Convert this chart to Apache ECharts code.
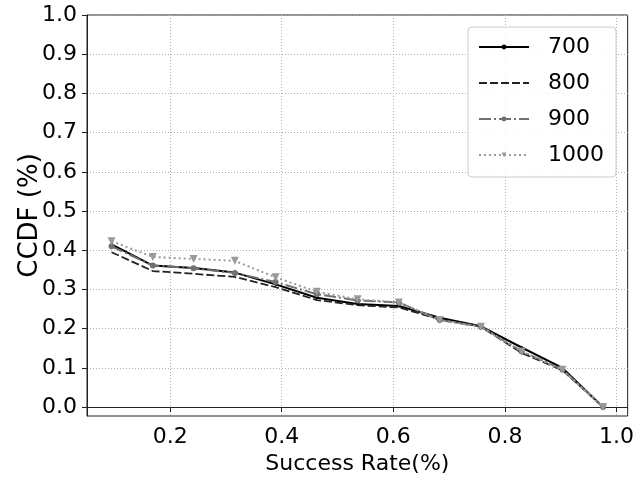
<!DOCTYPE html>
<html>
<head>
<meta charset="utf-8">
<script src="https://cdn.jsdelivr.net/npm/echarts@6/dist/echarts.min.js"></script>
<style>
  html, body { margin: 0; padding: 0; background: #fff; }
  #chart { width: 637px; height: 480px; }
</style>
</head>
<body>
<div id="chart"></div>
<script>
// 数据
var xValues = [0.095, 0.169, 0.242, 0.316, 0.389, 0.463, 0.536, 0.610, 0.683, 0.757, 0.830, 0.903, 0.976];
var s700 = [0.415, 0.361, 0.355, 0.343, 0.313, 0.279, 0.263, 0.258, 0.228, 0.206, 0.152, 0.100, 0.0];
var s800 = [0.395, 0.347, 0.340, 0.332, 0.306, 0.273, 0.260, 0.254, 0.224, 0.205, 0.138, 0.094, 0.0];
var s900 = [0.410, 0.361, 0.354, 0.342, 0.319, 0.288, 0.272, 0.267, 0.222, 0.205, 0.142, 0.096, 0.0];
var s1000 = [0.423, 0.383, 0.378, 0.373, 0.331, 0.294, 0.275, 0.267, 0.222, 0.205, 0.142, 0.095, 0.0];
var seriesNames = ['700', '800', '900', '1000'];
var xTicks = [0.2, 0.4, 0.6, 0.8, 1.0];
var yTicks = [0.0, 0.1, 0.2, 0.3, 0.4, 0.5, 0.6, 0.7, 0.8, 0.9, 1.0];

function pairs(ys) {
    return ys.map(function (y, i) { return [xValues[i], y]; });
}

var font = 'DejaVu Sans';
var myChart = echarts.init(document.getElementById('chart'));

var option = {
    animation: false,
    textStyle: { fontFamily: font },
    grid: {
        left: 87,
        right: 8,
        top: 15,
        bottom: 60,
        show: true,
        borderColor: '#222',
        borderWidth: 1
    },
    legend: {
        data: [
            { name: '700' },
            { name: '800', itemStyle: { opacity: 0 } },
            { name: '900' },
            { name: '1000' }
        ],
        orient: 'vertical',
        right: 21,
        top: 27,
        itemWidth: 50,
        itemHeight: 6,
        itemGap: 12,
        padding: [8, 12, 10, 10],
        borderColor: '#ccc',
        borderWidth: 1,
        borderRadius: 4,
        backgroundColor: 'rgba(255,255,255,0.85)',
        textStyle: { fontSize: 22, lineHeight: 24, color: '#000', padding: [0, 0, 0, 14], fontFamily: font }
    },
    xAxis: {
        type: 'value',
        min: 0.051,
        max: 1.02,
        name: 'Success Rate(%)',
        nameLocation: 'middle',
        nameGap: 37,
        nameMoveOverlap: false,
        nameTextStyle: { fontSize: 22, color: '#000', fontFamily: font },
        axisLine: { show: true, lineStyle: { color: '#222' } },
        axisTick: { show: true, length: 5, customValues: xTicks, lineStyle: { color: '#222' } },
        axisLabel: {
            customValues: xTicks,
            fontSize: 22,
            color: '#000',
            margin: 10,
            formatter: function (v) { return v.toFixed(1); }
        },
        splitLine: { show: true, lineStyle: { color: '#b0b0b0', type: [1, 2] } }
    },
    yAxis: {
        type: 'value',
        min: -0.0227,
        max: 1.0,
        name: 'CCDF (%)',
        nameLocation: 'middle',
        nameGap: 44,
        nameMoveOverlap: false,
        nameTextStyle: { fontSize: 26, color: '#000', fontFamily: font },
        axisLine: { show: true, lineStyle: { color: '#222' } },
        axisTick: { show: true, length: 5, customValues: yTicks, lineStyle: { color: '#222' } },
        axisLabel: {
            customValues: yTicks,
            fontSize: 22,
            color: '#000',
            margin: 10,
            formatter: function (v) { return v.toFixed(1); }
        },
        splitLine: { show: true, lineStyle: { color: '#b0b0b0', type: [1, 2] } }
    },
    series: [
        {
            name: '700',
            type: 'line',
            data: pairs(s700),
            symbol: 'circle',
            symbolSize: 3,
            itemStyle: { color: '#000' },
            lineStyle: { color: '#000', width: 2 }
        },
        {
            name: '800',
            type: 'line',
            data: pairs(s800),
            symbol: 'none',
            itemStyle: { color: '#222' },
            lineStyle: { color: '#222', width: 1.8, type: [8, 3] }
        },
        {
            name: '900',
            type: 'line',
            data: pairs(s900),
            symbol: 'circle',
            symbolSize: 6,
            itemStyle: { color: '#707070' },
            lineStyle: { color: '#707070', width: 2, type: [12, 3, 2, 3] }
        },
        {
            name: '1000',
            type: 'line',
            data: pairs(s1000),
            symbol: 'triangle',
            symbolRotate: 180,
            symbolSize: 8,
            itemStyle: { color: '#9a9a9a' },
            lineStyle: { color: '#9a9a9a', width: 2, type: [2, 3] }
        }
    ]
};
myChart.setOption(option);
</script>
</body>
</html>
